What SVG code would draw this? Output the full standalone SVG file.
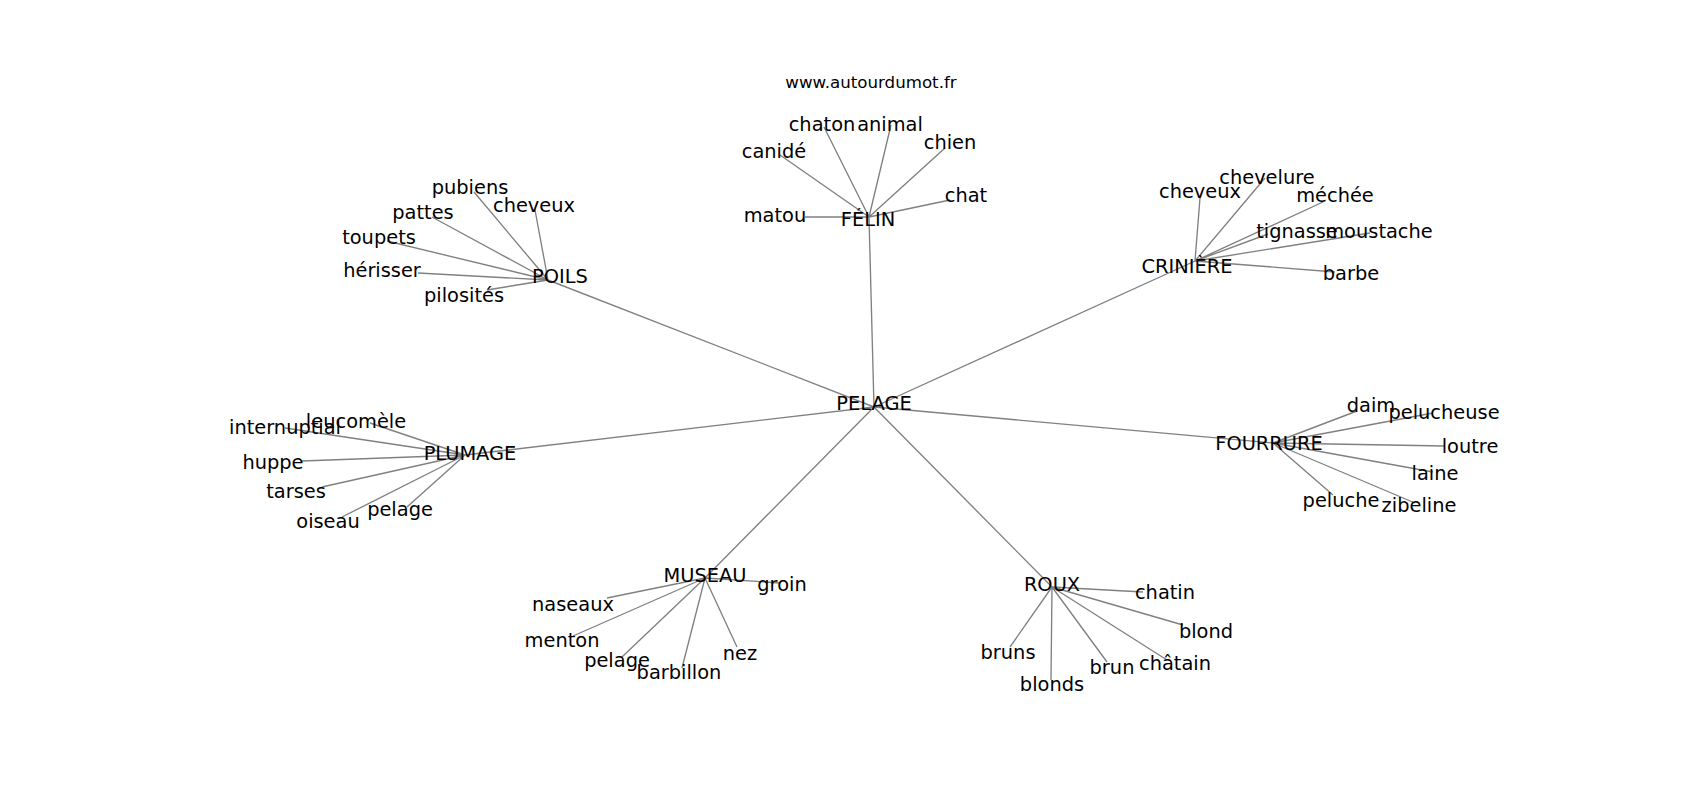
<svg xmlns="http://www.w3.org/2000/svg" width="1700" height="800" viewBox="0 0 1700 800">
<style>
.e{stroke:#808080;stroke-width:1.35;fill:none}
text{font-family:"DejaVu Sans","Liberation Sans",sans-serif;fill:#000;text-anchor:middle}
.n text{font-size:19.4px}
.t{font-size:16.67px}
</style>
<rect width="1700" height="800" fill="#fff"/>
<text class="t" x="871" y="88">www.autourdumot.fr</text>
<g id="edges" class="e">
<path d="M874 407L869 217M874 407L548 280M874 407L1195 261M874 407L465 455M874 407L1273 443M874 407L705 578M874 407L1052 587"/>
<path d="M548 280L474 192M548 280L535 210M548 280L432 217M548 280L387 241M548 280L418 273M548 280L487 290"/>
<path d="M869 217L824 127M869 217L891 125M869 217L780 155M869 217L945 148M869 217L950 200M869 217L805 217"/>
<path d="M1195 261L1200 198M1195 261L1265 178M1195 261L1323 202M1195 261L1268 234M1195 261L1370 233M1195 261L1335 272"/>
<path d="M1273 443L1357 411M1273 443L1433 413M1273 443L1445 446M1273 443L1433 472M1273 443L1415 503M1273 443L1333 495"/>
<path d="M465 455L285 428M465 455L370 423M465 455L302 461M465 455L322 487M465 455L342 517M465 455L407 507"/>
<path d="M705 578L780 583M705 578L607 598M705 578L573 636M705 578L622 657M705 578L682 668M705 578L737 647"/>
<path d="M1052 587L1143 592M1052 587L1183 625M1052 587L1167 660M1052 587L1107 662M1052 587L1010 647M1052 587L1051 680"/>
</g>
<g class="n">
<g id="n-pelage"><text x="874" y="410">PELAGE</text></g>
<g id="n-felin"><text x="868" y="226">FÉLIN</text></g>
<g id="n-poils"><text x="560" y="283">POILS</text></g>
<g id="n-criniere"><text x="1187" y="273">CRINIÈRE</text></g>
<g id="n-plumage"><text x="470" y="460">PLUMAGE</text></g>
<g id="n-fourrure"><text x="1269" y="450">FOURRURE</text></g>
<g id="n-museau"><text x="705" y="582">MUSEAU</text></g>
<g id="n-roux"><text x="1052" y="591">ROUX</text></g>

<g id="n-pubiens"><text x="470" y="194">pubiens</text></g>
<g id="n-cheveux1"><text x="534" y="212">cheveux</text></g>
<g id="n-pattes"><text x="423" y="219">pattes</text></g>
<g id="n-toupets"><text x="379" y="244">toupets</text></g>
<g id="n-herisser"><text x="382" y="277">hérisser</text></g>
<g id="n-pilosites"><text x="464" y="302">pilosités</text></g>

<g id="n-chaton"><text x="822" y="131">chaton</text></g>
<g id="n-animal"><text x="890" y="131">animal</text></g>
<g id="n-canide"><text x="774" y="158">canidé</text></g>
<g id="n-chien"><text x="950" y="149">chien</text></g>
<g id="n-chat"><text x="966" y="202">chat</text></g>
<g id="n-matou"><text x="775" y="222">matou</text></g>

<g id="n-cheveux2"><text x="1200" y="198">cheveux</text></g>
<g id="n-chevelure"><text x="1267" y="183.5">chevelure</text></g>
<g id="n-mechee"><text x="1335" y="201.5">méchée</text></g>
<g id="n-tignasse"><text x="1297" y="238">tignasse</text></g>
<g id="n-moustache"><text x="1379" y="238">moustache</text></g>
<g id="n-barbe"><text x="1351" y="279.5">barbe</text></g>

<g id="n-daim"><text x="1371" y="411.5">daim</text></g>
<g id="n-pelucheuse"><text x="1444" y="419">pelucheuse</text></g>
<g id="n-loutre"><text x="1470" y="452.5">loutre</text></g>
<g id="n-laine"><text x="1435" y="479.5">laine</text></g>
<g id="n-zibeline"><text x="1419" y="512">zibeline</text></g>
<g id="n-peluche"><text x="1341" y="507">peluche</text></g>

<g id="n-internuptial"><text x="285" y="434">internuptial</text></g>
<g id="n-leucomele"><text x="356" y="428">leucomèle</text></g>
<g id="n-huppe"><text x="273" y="469">huppe</text></g>
<g id="n-tarses"><text x="296" y="497.5">tarses</text></g>
<g id="n-oiseau"><text x="328" y="528">oiseau</text></g>
<g id="n-pelage1"><text x="400" y="516">pelage</text></g>

<g id="n-groin"><text x="782" y="591">groin</text></g>
<g id="n-naseaux"><text x="573" y="611">naseaux</text></g>
<g id="n-menton"><text x="562" y="646.5">menton</text></g>
<g id="n-pelage2"><text x="617" y="666.5">pelage</text></g>
<g id="n-barbillon"><text x="679" y="678.5">barbillon</text></g>
<g id="n-nez"><text x="740" y="659.5">nez</text></g>

<g id="n-chatin"><text x="1165" y="599">chatin</text></g>
<g id="n-blond"><text x="1206" y="637.5">blond</text></g>
<g id="n-chatain"><text x="1175" y="669.5">châtain</text></g>
<g id="n-brun"><text x="1112" y="674">brun</text></g>
<g id="n-bruns"><text x="1008" y="658.5">bruns</text></g>
<g id="n-blonds"><text x="1052" y="690.5">blonds</text></g>
</g>
</svg>
